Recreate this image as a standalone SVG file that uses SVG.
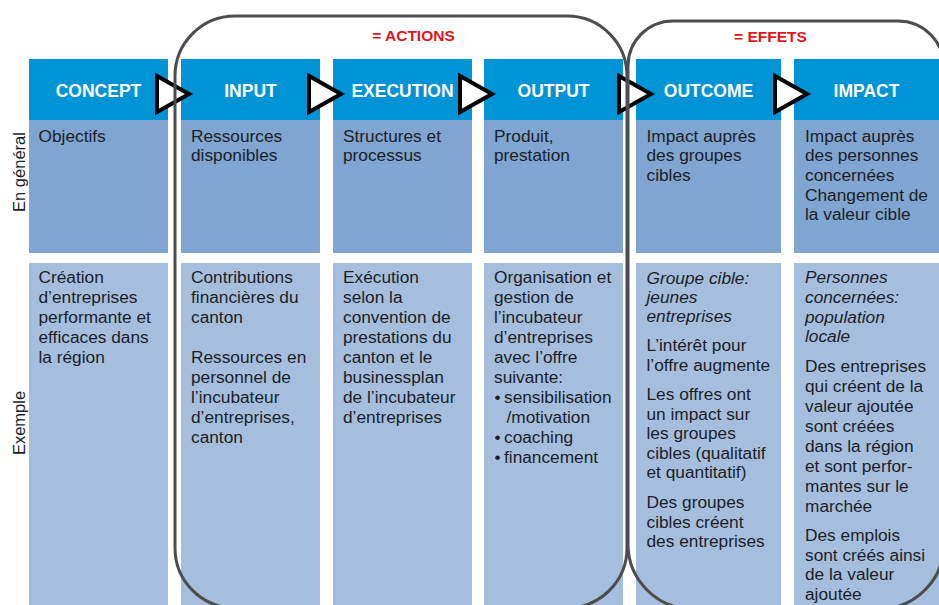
<svg xmlns="http://www.w3.org/2000/svg" width="939" height="605" viewBox="0 0 939 605">
<style>
  .hd { fill: #0093D5; }
  .gen { fill: #7FA5D0; }
  .ex { fill: #A5BEDD; }
  .ht { font-family: "Liberation Sans", Arial, sans-serif; font-weight: bold; font-size: 17.5px; fill: #FFFFFF; text-anchor: middle; }
  .bt { font-family: "Liberation Sans", Arial, sans-serif; font-size: 17.3px; fill: #1C1E28; }
  .it { font-style: italic; }
  .lab { font-family: "Liberation Sans", Arial, sans-serif; font-size: 16.5px; fill: #1C1E28; text-anchor: middle; }
  .grp { font-family: "Liberation Sans", Arial, sans-serif; font-weight: bold; font-size: 15.5px; fill: #E2151B; text-anchor: middle; }
  .arr { fill: #FFFFFF; stroke: #000000; stroke-width: 4; stroke-linejoin: miter; }
  .frame { fill: none; stroke: #4D4D4D; stroke-width: 3; }
</style>
<rect width="939" height="605" fill="#FFFFFF"/>

<g id="row-labels">
  <text class="lab" transform="translate(25,172) rotate(-90)">En général</text>
  <text class="lab" transform="translate(25,423) rotate(-90)">Exemple</text>
</g>

<g id="concept">
  <rect class="hd" x="29" y="59" width="139" height="61"/>
  <text class="ht" x="98.5" y="96.5">CONCEPT</text>
  <rect class="gen" x="29" y="120" width="139" height="133"/>
  <text class="bt" x="38.5" y="141.5">Objectifs</text>
  <rect class="ex" x="29" y="263" width="139" height="342"/>
  <text class="bt"><tspan x="38.5" y="283.3">Création</tspan><tspan x="38.5" y="303.3">d’entreprises</tspan><tspan x="38.5" y="323.3">performante et</tspan><tspan x="38.5" y="343.3">efficaces dans</tspan><tspan x="38.5" y="363.3">la région</tspan></text>
</g>

<g id="input">
  <rect class="hd" x="181" y="59" width="139" height="61"/>
  <text class="ht" x="250.5" y="96.5">INPUT</text>
  <rect class="gen" x="181" y="120" width="139" height="133"/>
  <text class="bt"><tspan x="191" y="141.5">Ressources</tspan><tspan x="191" y="161.3">disponibles</tspan></text>
  <rect class="ex" x="181" y="263" width="139" height="342"/>
  <text class="bt"><tspan x="191" y="283.3">Contributions</tspan><tspan x="191" y="303.3">financières du</tspan><tspan x="191" y="323.3">canton</tspan><tspan x="191" y="363.3">Ressources en</tspan><tspan x="191" y="383.3">personnel de</tspan><tspan x="191" y="403.3">l’incubateur</tspan><tspan x="191" y="423.3">d’entreprises,</tspan><tspan x="191" y="443.3">canton</tspan></text>
</g>

<g id="execution">
  <rect class="hd" x="333" y="59" width="139" height="61"/>
  <text class="ht" x="402.5" y="96.5">EXECUTION</text>
  <rect class="gen" x="333" y="120" width="139" height="133"/>
  <text class="bt"><tspan x="343" y="141.5">Structures et</tspan><tspan x="343" y="161.3">processus</tspan></text>
  <rect class="ex" x="333" y="263" width="139" height="342"/>
  <text class="bt"><tspan x="343" y="283.3">Exécution</tspan><tspan x="343" y="303.3">selon la</tspan><tspan x="343" y="323.3">convention de</tspan><tspan x="343" y="343.3">prestations du</tspan><tspan x="343" y="363.3">canton et le</tspan><tspan x="343" y="383.3">businessplan</tspan><tspan x="343" y="403.3">de l’incubateur</tspan><tspan x="343" y="423.3">d’entreprises</tspan></text>
</g>

<g id="output">
  <rect class="hd" x="484" y="59" width="139" height="61"/>
  <text class="ht" x="553.5" y="96.5">OUTPUT</text>
  <rect class="gen" x="484" y="120" width="139" height="133"/>
  <text class="bt"><tspan x="494" y="141.5">Produit,</tspan><tspan x="494" y="161.3">prestation</tspan></text>
  <rect class="ex" x="484" y="263" width="139" height="342"/>
  <text class="bt"><tspan x="494" y="283.3">Organisation et</tspan><tspan x="494" y="303.3">gestion de</tspan><tspan x="494" y="323.3">l’incubateur</tspan><tspan x="494" y="343.3">d’entreprises</tspan><tspan x="494" y="363.3">avec l’offre</tspan><tspan x="494" y="383.3">suivante:</tspan><tspan x="494.5" y="403.3">•</tspan><tspan x="504" y="403.3">sensibilisation</tspan><tspan x="506.5" y="423.3">/motivation</tspan><tspan x="494.5" y="443.3">•</tspan><tspan x="504" y="443.3">coaching</tspan><tspan x="494.5" y="463.3">•</tspan><tspan x="504" y="463.3">financement</tspan></text>
</g>

<g id="outcome">
  <rect class="hd" x="636" y="59" width="145" height="61"/>
  <text class="ht" x="708.5" y="96.5">OUTCOME</text>
  <rect class="gen" x="636" y="120" width="145" height="133"/>
  <text class="bt"><tspan x="646.5" y="141.5">Impact auprès</tspan><tspan x="646.5" y="161.3">des groupes</tspan><tspan x="646.5" y="181">cibles</tspan></text>
  <rect class="ex" x="636" y="263" width="145" height="342"/>
  <text class="bt"><tspan class="it" x="646.5" y="284">Groupe cible:</tspan><tspan class="it" x="646.5" y="303">jeunes</tspan><tspan class="it" x="646.5" y="321.5">entreprises</tspan><tspan x="646.5" y="351">L’intérêt pour</tspan><tspan x="646.5" y="370.5">l’offre augmente</tspan><tspan x="646.5" y="400">Les offres ont</tspan><tspan x="646.5" y="419.5">un impact sur</tspan><tspan x="646.5" y="439">les groupes</tspan><tspan x="646.5" y="458.5">cibles (qualitatif</tspan><tspan x="646.5" y="478">et quantitatif)</tspan><tspan x="646.5" y="508">Des groupes</tspan><tspan x="646.5" y="527.5">cibles créent</tspan><tspan x="646.5" y="547">des entreprises</tspan></text>
</g>

<g id="impact">
  <rect class="hd" x="794" y="59" width="145" height="61"/>
  <text class="ht" x="866.5" y="96.5">IMPACT</text>
  <rect class="gen" x="794" y="120" width="145" height="133"/>
  <text class="bt"><tspan x="805" y="141.5">Impact auprès</tspan><tspan x="805" y="161.2">des personnes</tspan><tspan x="805" y="180.9">concernées</tspan><tspan x="805" y="200.6">Changement de</tspan><tspan x="805" y="220.3">la valeur cible</tspan></text>
  <rect class="ex" x="794" y="263" width="145" height="342"/>
  <text class="bt"><tspan class="it" x="805" y="283.3">Personnes</tspan><tspan class="it" x="805" y="303">concernées:</tspan><tspan class="it" x="805" y="322.5">population</tspan><tspan class="it" x="805" y="342">locale</tspan><tspan x="805" y="371.7">Des entreprises</tspan><tspan x="805" y="391.7">qui créent de la</tspan><tspan x="805" y="411.7">valeur ajoutée</tspan><tspan x="805" y="431.7">sont créées</tspan><tspan x="805" y="451.7">dans la région</tspan><tspan x="805" y="471.7">et sont perfor-</tspan><tspan x="805" y="491.7">mantes sur le</tspan><tspan x="805" y="511.7">marchée</tspan><tspan x="805" y="541">Des emplois</tspan><tspan x="805" y="560.5">sont créés ainsi</tspan><tspan x="805" y="580">de la valeur</tspan><tspan x="805" y="599.5">ajoutée</tspan></text>
</g>

<g id="connectors">
  <polygon class="arr" points="157,76 157,112 189,94"/>
  <polygon class="arr" points="309,76 309,112 341,94"/>
  <polygon class="arr" points="460,76 460,112 492,94"/>
  <polygon class="arr" points="619,76 619,112 651,94"/>
  <polygon class="arr" points="775,76 775,112 807,94"/>
</g>

<g id="groups">
  <rect class="frame" x="175" y="16" width="452" height="592" rx="60" ry="60"/>
  <text class="grp" x="413.5" y="40.5">= ACTIONS</text>
  <path class="frame" d="M628,66 A45,45 0 0 1 673,21 H898 A46,46 0 0 1 944,67 V544 A65,65 0 0 1 879,609 H693 A65,65 0 0 1 628,544 Z"/>
  <text class="grp" x="770.5" y="41.5">= EFFETS</text>
</g>
</svg>
